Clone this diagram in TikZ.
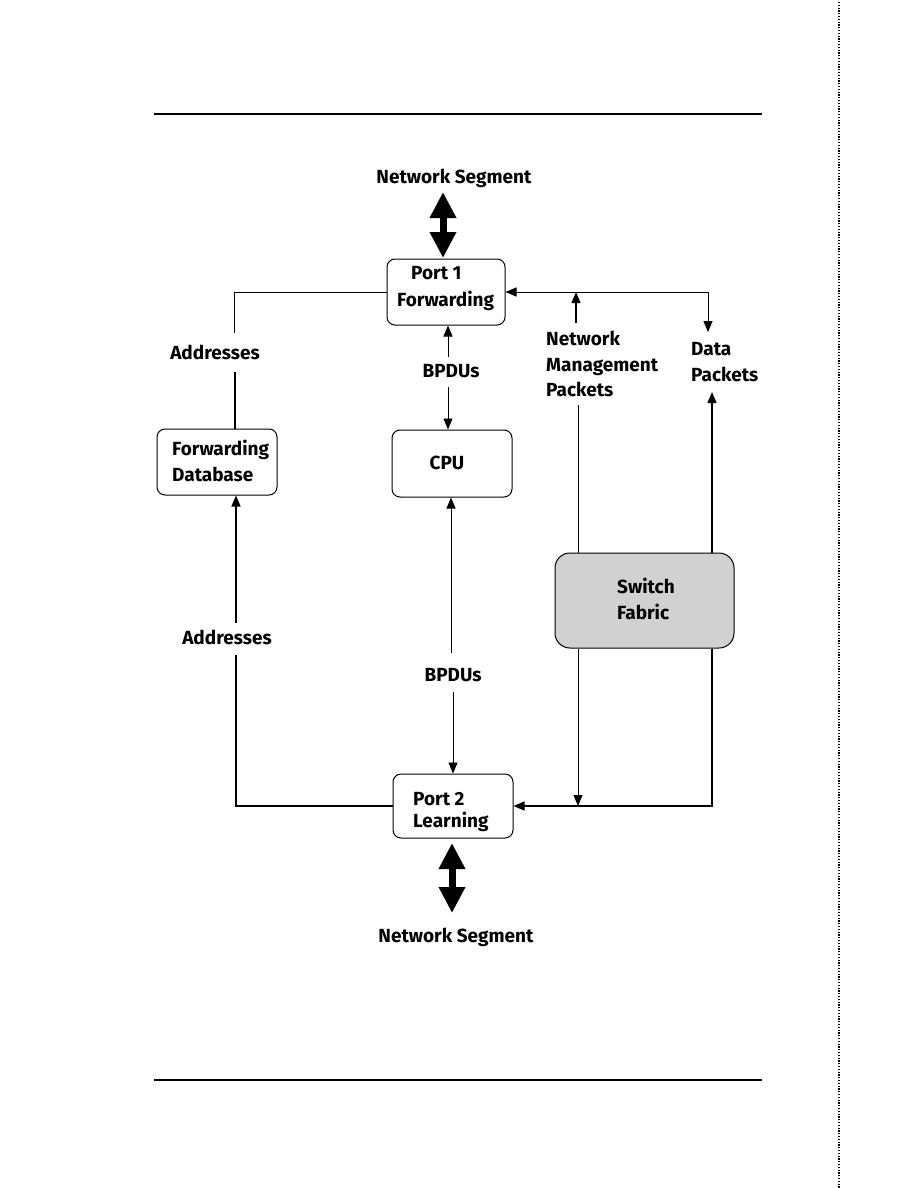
\documentclass[tikz,border=0pt]{standalone}
\usepackage{fontspec}
\setmainfont{Fira Sans}
\usetikzlibrary{arrows.meta}
\begin{document}
\begin{tikzpicture}[x=1pt,y=-1pt,
  box/.style={draw, line width=1pt, rounded corners=8pt, inner sep=0pt},
  lbl/.style={font=\fontsize{19}{25.5}\selectfont\bfseries, inner sep=0pt, align=left},
  thinln/.style={line width=0.9pt},
  medln/.style={line width=1.4pt},
  arr/.style={-{Triangle[width=9pt,length=11pt]}},
  big/.style={line width=7pt, {Triangle[width=25pt,length=26pt]}-{Triangle[width=25pt,length=26pt]}}
]
\useasboundingbox (0,0) rectangle (918,1188);
% page rules
\coordinate (r1a) at (154,114); \coordinate (r1b) at (762,114);
\coordinate (r2a) at (154,1080); \coordinate (r2b) at (762,1080);
\coordinate (da) at (839,2); \coordinate (db) at (839,1188);
\draw[line width=1.5pt] (r1a) -- (r1b);
\draw[line width=2.6pt] (r2a) -- (r2b);
\draw[line width=1.2pt, dash pattern=on 1.2pt off 1.6pt] (da) -- (db);

% boxes
\node[box, minimum width=118pt, minimum height=66pt] (p1) at (446,292) {};
\node[box, minimum width=120pt, minimum height=66pt] (fdb) at (217,462) {};
\node[box, minimum width=120pt, minimum height=67pt] (cpu) at (452,463.5) {};
\node[box, minimum width=120pt, minimum height=64pt] (p2) at (453,806) {};
\node[box, fill=black!18, rounded corners=15pt, minimum width=179pt, minimum height=95pt] (sf) at (644.5,600.5) {};

% texts
\node[lbl] (nsTop) at (454,178) {Network Segment};
\node[lbl, anchor=west] (p1a) at (411,273) {Port 1};
\node[lbl, anchor=west] (p1b) at (397,301) {Forwarding};
\node[lbl] (addr1) at (215,352) {Addresses};
\node[lbl, anchor=west] (fdbt) at (172,461) {Forwarding\\Database};
\node[lbl] (bpdu1) at (451,371) {BPDUs};
\node[lbl] (cput) at (447,463) {CPU};
\node[lbl, anchor=west] (nmp) at (546,364) {Network\\Management\\Packets};
\node[lbl, anchor=west] (dp) at (691,362) {Data\\Packets};
\node[lbl, anchor=west] (sft) at (617,599) {Switch\\Fabric};
\node[lbl] (addr2) at (227,637) {Addresses};
\node[lbl] (bpdu2) at (453,675) {BPDUs};
\node[lbl, anchor=west] (p2a) at (413,799) {Port 2};
\node[lbl, anchor=west] (p2b) at (413,822) {Learning};
\node[lbl] (nsBot) at (456,937) {Network Segment};

% thick double arrows
\coordinate (t1a) at (443,192); \coordinate (t1b) at (443,258);
\draw[big] (t1a) -- (t1b);
\coordinate (t2a) at (452,843); \coordinate (t2b) at (452,913);
\draw[big] (t2a) -- (t2b);

% left: addresses to forwarding database
\coordinate (a1t) at (234,333); \coordinate (a1b) at (235,372);
\draw[thinln] (p1.west) -| (a1t);
\draw[medln] (a1b) -- (a1b |- fdb.north);
\coordinate (a2t) at (236,623); \coordinate (a2b) at (236,655);
\draw[medln, arr] (a2t) -- (a2t |- fdb.south);
\draw[medln] (p2.west) -| (a2b);

% BPDUs port1 <-> CPU
\coordinate (b1t) at (448,357); \coordinate (b1b) at (448,387);
\draw[thinln, arr] (b1t) -- (b1t |- p1.south);
\draw[thinln, arr] (b1b) -- (b1b |- cpu.north);
% BPDUs CPU <-> port2
\coordinate (b2t) at (451,653); \coordinate (b2b) at (453,692);
\draw[thinln, arr] (b2t) -- (b2t |- cpu.south);
\draw[thinln, arr] (b2b) -- (b2b |- p2.north);

% network management packets
\coordinate (nmT) at (576,323); \coordinate (nmB) at (578,405);
\draw[medln, arr] (nmT) -- (nmT |- p1.east);
\draw[thinln] (nmB) -- (nmB |- sf.north);
\draw[thinln, arr] (nmB |- sf.south) -- (nmB |- p2.east);

% data packets
\coordinate (dpT) at (708,332); \coordinate (dpB) at (712,392);
\draw[thinln, {Triangle[width=9pt,length=11pt]}-{Triangle[width=9pt,length=11pt]}] (dpT) |- (p1.east);
\draw[medln, arr] (dpB |- sf.north) -- (dpB);
\draw[medln, arr] (dpB |- sf.south) |- (p2.east);
\end{tikzpicture}
\end{document}
